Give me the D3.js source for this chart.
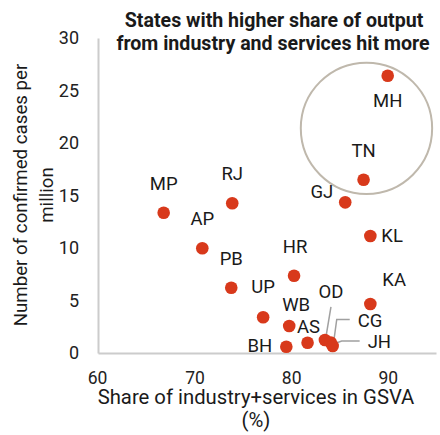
<!DOCTYPE html>
<html>
<head>
<meta charset="utf-8">
<script src="https://cdn.jsdelivr.net/npm/d3@7"></script>
<style>
  body { margin: 0; background: #fff; }
  svg { display: block; font-family: Roboto, "Noto Sans", sans-serif; }
</style>
</head>
<body>
<svg width="440" height="435"></svg>
<script>
// states and values
var states = ["MH", "TN", "GJ", "MP", "RJ", "AP", "KL", "HR", "PB", "UP", "KA", "WB", "AS", "BH", "OD", "CG", "JH"];
var share = [90.0, 87.5, 85.6, 66.8, 73.9, 70.8, 88.2, 80.3, 73.8, 77.1, 88.2, 79.8, 81.7, 79.5, 83.5, 84.1, 84.3];
var cases = [26.4, 16.5, 14.35, 13.36, 14.26, 9.97, 11.14, 7.36, 6.22, 3.4, 4.67, 2.57, 0.98, 0.6, 1.24, 1.0, 0.67];

var xTicks = [60, 70, 80, 90];
var yTicks = [0, 5, 10, 15, 20, 25, 30];

// label placement relative to the dot: [dx, dy, anchor]
var labelPos = {
  MH: [0, 31, "middle"], TN: [0, -23, "middle"], GJ: [-12, -4, "end"],
  MP: [0, -23, "middle"], RJ: [0, -23, "middle"], AP: [0, -23, "middle"],
  KL: [11, 6, "start"], HR: [1, -23, "middle"], PB: [0, -23, "middle"],
  UP: [0, -24, "middle"], KA: [12, -18, "start"], WB: [-7, -15, "start"],
  AS: [1, -10, "middle"], BH: [-14, 5, "end"],
  OD: [6, -42, "middle"], CG: [27, -16, "start"], JH: [35, 2, "start"]
};
// leader lines for the crowded cluster (offsets in px from the dot)
var leaders = {
  OD: [[6, -33], [1, -3]],
  CG: [[19, -23], [6, -23], [3, -1]],
  JH: [[27, -5], [9, -5], [1, -2]]
};

var svg = d3.select("svg");
var x = d3.scaleLinear().domain([60, 95]).range([98, 436]);
var y = d3.scaleLinear().domain([0, 30]).range([353, 38]);

var data = states.map((s, i) => ({state: s, x: share[i], y: cases[i]}));

// axes: light lines, no ticks
var xAxis = svg.append("g")
  .attr("transform", "translate(0," + y(0) + ")")
  .call(d3.axisBottom(x).tickValues(xTicks).tickSize(0));
var yAxis = svg.append("g")
  .attr("transform", "translate(" + x(60) + ",0)")
  .call(d3.axisLeft(y).tickValues(yTicks).tickSize(0).tickPadding(19));

[xAxis, yAxis].forEach(a => {
  a.select(".domain").attr("stroke", "#cccccc").attr("stroke-width", 2);
  a.selectAll("text").attr("font-size", 18).attr("fill", "#222")
    .attr("font-family", "Roboto, sans-serif");
});
xAxis.selectAll("text").attr("dy", null).attr("y", 31)
  .attr("font-size", 17.5)
  .attr("x", d => d === 60 ? -1 : 0);

// highlight circle around MH / TN
var ring = {cx: 87.8, cy: 21.4, r: 6.8};
svg.append("circle")
  .attr("cx", x(ring.cx))
  .attr("cy", y(ring.cy))
  .attr("r", x(60 + ring.r) - x(60))
  .attr("fill", "none")
  .attr("stroke", "#bfb8ac")
  .attr("stroke-width", 2);

// leader lines
var line = d3.line();
Object.keys(leaders).forEach(k => {
  var d = data.find(p => p.state === k);
  svg.append("path")
    .attr("d", line(leaders[k].map(o => [x(d.x) + o[0], y(d.y) + o[1]])))
    .attr("fill", "none")
    .attr("stroke", "#a0a0a0")
    .attr("stroke-width", 1.5);
});

// dots
svg.append("g").selectAll("circle")
  .data(data)
  .join("circle")
  .attr("cx", d => x(d.x))
  .attr("cy", d => y(d.y))
  .attr("r", 6.3)
  .attr("fill", "#d8391b");

// labels
svg.append("g").selectAll("text")
  .data(data)
  .join("text")
  .attr("x", d => x(d.x) + labelPos[d.state][0])
  .attr("y", d => y(d.y) + labelPos[d.state][1])
  .attr("text-anchor", d => labelPos[d.state][2])
  .attr("font-size", 18.5)
  .attr("fill", "#1a1a1a")
  .text(d => d.state);

// title
svg.append("text")
  .attr("x", 274).attr("y", 26.5)
  .attr("text-anchor", "middle")
  .attr("font-size", 19.6).attr("font-weight", "bold").attr("fill", "#1a1a1a")
  .text("States with higher share of output");
svg.append("text")
  .attr("x", 273).attr("y", 49.5)
  .attr("text-anchor", "middle")
  .attr("font-size", 19.6).attr("font-weight", "bold").attr("fill", "#1a1a1a")
  .text("from industry and services hit more");

// x axis title
svg.append("text")
  .attr("x", 256).attr("y", 404)
  .attr("text-anchor", "middle")
  .attr("font-size", 20.3).attr("fill", "#1a1a1a")
  .text("Share of industry+services in GSVA");
svg.append("text")
  .attr("x", 256).attr("y", 427)
  .attr("text-anchor", "middle")
  .attr("font-size", 20.3).attr("fill", "#1a1a1a")
  .text("(%)");

// y axis title
var yt = svg.append("text")
  .attr("transform", "translate(27,195) rotate(-90)")
  .attr("text-anchor", "middle")
  .attr("font-size", 18.7).attr("fill", "#1a1a1a");
yt.append("tspan").attr("x", 0).attr("y", 0).text("Number of confirmed cases per");
yt.append("tspan").attr("x", 0).attr("y", 26).text("million");
</script>
</body>
</html>
